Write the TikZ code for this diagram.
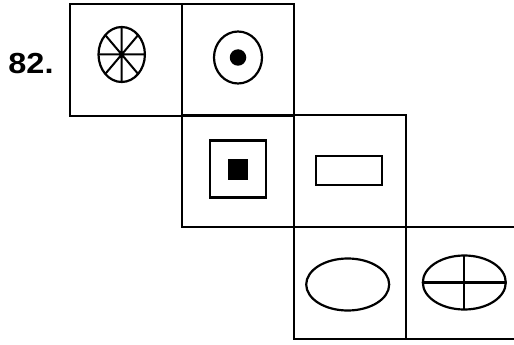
\documentclass[tikz,border=0pt]{standalone}
\usepackage{fontspec}
\setmainfont{Liberation Sans}
\usetikzlibrary{shapes.geometric}
\begin{document}
\begin{tikzpicture}[x=1pt,y=-1pt,
  cell/.style={draw,line width=2.7pt,minimum width=112pt,minimum height=112pt,inner sep=0,outer sep=0},
  sym/.style={draw,line width=2.2pt,inner sep=0,outer sep=0},
  oval/.style={sym,ellipse},
  dotfill/.style={circle,fill=black,inner sep=0,outer sep=0}]
\useasboundingbox (0,0) rectangle (514,345);
\node[inner sep=0,xscale=1.12,anchor=base] (lbl) at (31,73.3) {\fontsize{29}{34}\selectfont\bfseries 82.};
% cells
\node[cell] (b1) at (126,60) {};
\node[cell] (b2) at (238,60) {};
\node[cell] (b3) at (238,171) {};
\node[cell] (b4) at (350,171) {};
\node[cell] (b5) at (350,283) {};
\coordinate (r6t) at (514,227);
\coordinate (r6b) at (514,339);
\draw[line width=2.7pt] (r6t) -- (b5.north east) (b5.south east) -- (r6b);
% symbol 1: wheel
\coordinate (wc) at (121.7,54.5);
\draw[line width=2.2pt] (wc) ellipse [x radius=23.2, y radius=27.5];
\draw[line width=2pt] ([yshift=-27.5pt]wc) -- ([yshift=27.5pt]wc)
  ([xshift=-23.2pt]wc) -- ([xshift=23.2pt]wc)
  ([xshift=-16.4pt,yshift=-19.4pt]wc) -- ([xshift=16.4pt,yshift=19.4pt]wc)
  ([xshift=-16.4pt,yshift=19.4pt]wc) -- ([xshift=16.4pt,yshift=-19.4pt]wc);
% symbol 2: ellipse with dot
\node[oval,minimum width=48pt,minimum height=52pt] (e2) at (238,57.5) {};
\node[dotfill,minimum size=16.5pt] (d2) at (e2.center) {};
% symbol 3: square with filled square
\node[sym,minimum width=56pt,minimum height=57pt] (s3) at (238,169) {};
\node[fill=black,inner sep=0,minimum width=20.5pt,minimum height=21pt] (f3) at (s3.center) {};
% symbol 4: rectangle
\node[sym,minimum width=66pt,minimum height=29pt] (r4) at (349,170.5) {};
% symbol 5: ellipse
\node[oval,minimum width=83pt,minimum height=52pt] (e5) at (347.7,284.5) {};
% symbol 6: ellipse with cross
\node[oval,minimum width=83pt,minimum height=54pt] (e6) at (464.3,282.5) {};
\draw[line width=2.2pt] (e6.north) -- (e6.south) (e6.west) -- (e6.east);
\end{tikzpicture}
\end{document}
